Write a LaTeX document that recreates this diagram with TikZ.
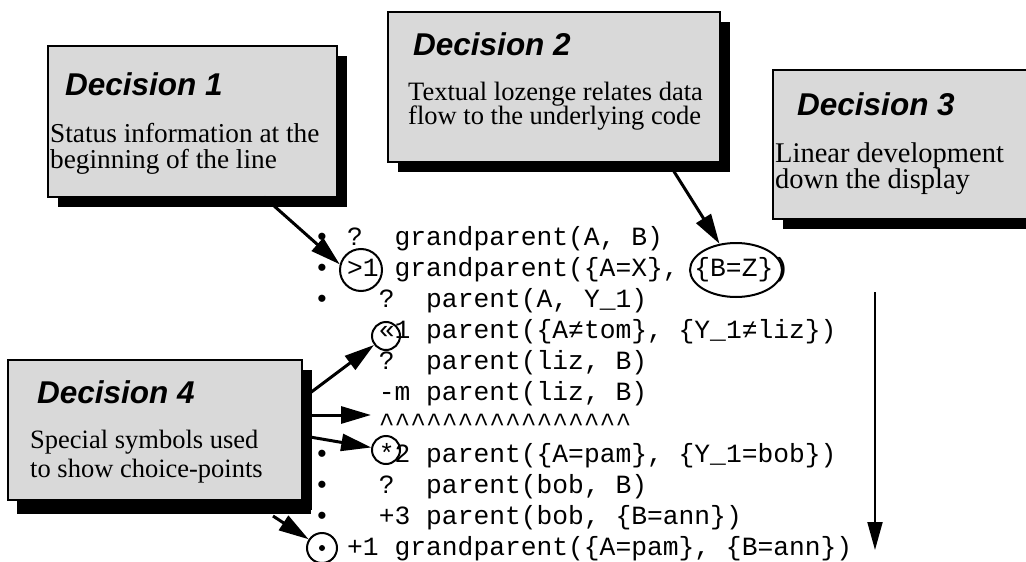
\documentclass[tikz,border=0pt]{standalone}
\usepackage{fontspec}
\setmainfont{Liberation Serif}
\newfontfamily\hv{Liberation Sans}
\newfontfamily\cour{Liberation Mono}
\usetikzlibrary{arrows.meta,shapes.geometric,shadows}
\newcommand\crt{\textasciicircum}
\begin{document}
\begin{tikzpicture}[x=1pt,y=-1pt,
  decbox/.style={rectangle, draw=black, line width=2pt, fill=black!15, inner sep=0pt,
     drop shadow={opacity=1, fill=black, shadow xshift=10pt, shadow yshift=-10pt}},
  ttl/.style={anchor=base west, inner sep=0pt, font={\hv\bfseries\itshape\fontsize{31.5}{31.5}\selectfont}},
  body/.style={anchor=base west, inner sep=0pt, font={\fontsize{#1}{#1}\selectfont}},
  code/.style={anchor=base west, inner sep=0pt, font={\cour\fontsize{26.3}{31}\selectfont}},
  bul/.style={anchor=base, inner sep=0pt, font={\cour\fontsize{26.3}{31}\selectfont}},
  ring/.style={circle, draw=black, line width=2pt, inner sep=0pt},
  conn/.style={line width=3pt, -{Triangle[length=30pt,width=17pt]}},
  vconn/.style={line width=2pt, -{Triangle[length=28pt,width=15pt]}}
]
\useasboundingbox (0,0) rectangle (1026,562);
\fill[white] (0,0) rectangle (1026,562);
\clip (0,0) rectangle (1026,562);

% ---- decision boxes ----
\node[decbox, minimum width=289pt, minimum height=151pt] (d1) at (192.5,121.5) {};
\node[ttl] (d1t) at (65,95) {Decision 1};
\node[body=27.3] (d1a) at (50,142) {Status information at the};
\node[body=27.3] (d1b) at (50,168) {beginning of the line};

\node[decbox, minimum width=332pt, minimum height=150pt] (d2) at (554,87) {};
\node[ttl] (d2t) at (413,55) {Decision 2};
\node[body=26.5] (d2a) at (408,100) {Textual lozenge relates data};
\node[body=26.5] (d2b) at (408,124) {flow to the underlying code};

\node[decbox, minimum width=272pt, minimum height=149pt] (d3) at (909,144.5) {};
\node[ttl] (d3t) at (797,115) {Decision 3};
\node[body=28.5] (d3a) at (775,162) {Linear development};
\node[body=28.5] (d3b) at (775,188) {down the display};

\node[decbox, minimum width=294pt, minimum height=140pt,
      drop shadow={opacity=1, fill=black, shadow xshift=9pt, shadow yshift=-14pt}] (d4) at (155,430) {};
\node[ttl] (d4t) at (37,403) {Decision 4};
\node[body=26.5] (d4a) at (30,448) {Special symbols used};
\node[body=26.5] (d4b) at (30,477) {to show choice-points};

% ---- trace lines ----
\node[bul] (b1) at (322,245) {•};
\node[code] (s1) at (347,245) {?};
\node[code] (t1) at (394.4,245) {grandparent(A, B)};

\node[bul] (b2) at (322,276) {•};
\node[code] (s2) at (347,276) {>1};
\node[code] (t2) at (394.4,276) {grandparent(\{A=X\}, \{B=Z\})};

\node[bul] (b3) at (322,307) {•};
\node[code] (s3) at (378.6,307) {?};
\node[code] (t3) at (426,307) {parent(A, Y\_1)};

\node[code] (s4) at (378.6,338) {«1};
\node[code] (t4) at (426,338) {parent(\{A≠tom\}, \{Y\_1≠liz\})};

\node[code] (s5) at (378.6,369) {?};
\node[code] (t5) at (426,369) {parent(liz, B)};

\node[code] (s6) at (378.6,400) {-m};
\node[code] (t6) at (426,400) {parent(liz, B)};

\node[code] (s7) at (378.6,431) {\crt\crt\crt\crt\crt\crt\crt\crt\crt\crt\crt\crt\crt\crt\crt\crt};

\node[bul] (b8) at (322,462) {•};
\node[code] (s8) at (378.6,462) {*2};
\node[code] (t8) at (426,462) {parent(\{A=pam\}, \{Y\_1=bob\})};

\node[bul] (b9) at (322,493) {•};
\node[code] (s9) at (378.6,493) {?};
\node[code] (t9) at (426,493) {parent(bob, B)};

\node[bul] (b10) at (322,524) {•};
\node[code] (s10) at (378.6,524) {+3};
\node[code] (t10) at (426,524) {parent(bob, \{B=ann\})};

\node[code] (s11) at (347,555) {+1};
\node[code] (t11) at (394.4,555) {grandparent(\{A=pam\}, \{B=ann\})};

% ---- marks ----
\node[ring, minimum size=42pt] (c2) at (361,270) {};
\node[ellipse, draw=black, line width=2pt, inner sep=0pt, minimum width=92pt, minimum height=54pt] (e2) at (736,270) {};
\node[ring, minimum size=28pt] (c4) at (386,336) {};
\node[ring, minimum size=28pt] (c8) at (386,450) {};
\node[ring, minimum size=30pt] (c11) at (322,548) {};
\node[circle, fill=black, inner sep=0pt, minimum size=6pt] (dot11) at (322,548) {};

% ---- connectors ----
\coordinate (a1s) at (264,197);
\coordinate (a2s) at (668,162);
\coordinate (v1) at (875,292);
\coordinate (v2) at (875,550);
\coordinate (a4s1) at (310,393);
\coordinate (a4s2) at (310,415);
\coordinate (a4e2) at (371,415);
\coordinate (a4s3) at (310,437);
\coordinate (a4s4) at (273,516);

\draw[conn] (a1s) -- (c2.165);
\draw[conn] (a2s) -- (e2);
\draw[vconn] (v1) -- (v2);
\draw[conn] (a4s1) -- (c4);
\draw[conn] (a4s2) -- (a4e2);
\draw[conn] (a4s3) -- (c8);
\draw[conn] (a4s4) -- (c11);
\end{tikzpicture}
\end{document}
